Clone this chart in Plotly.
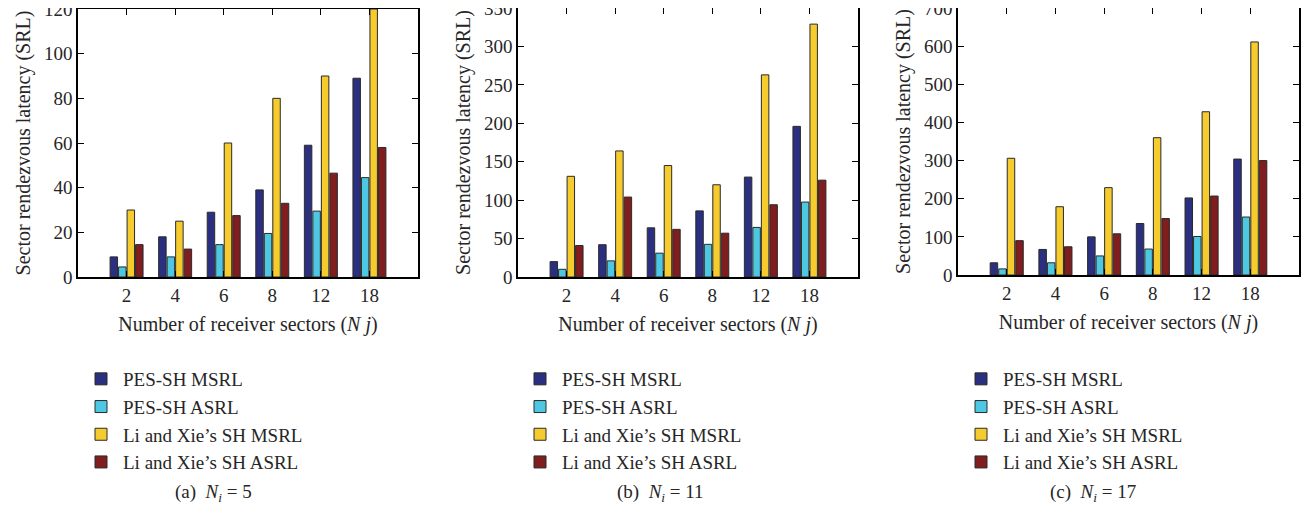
import plotly.graph_objects as go

categories = ["2", "4", "6", "8", "12", "18"]
series_names = ["PES-SH MSRL", "PES-SH ASRL", "Li and Xie’s SH MSRL", "Li and Xie’s SH ASRL"]
colors = ["#2B2F7F", "#4EC7E3", "#F6CB2E", "#7F1D1F"]

# (a) N_i = 5
a_pes_msrl = [9, 18, 29, 39, 59, 89]
a_pes_asrl = [4.5, 9, 14.5, 19.5, 29.5, 44.5]
a_li_msrl = [30, 25, 60, 80, 90, 120]
a_li_asrl = [14.5, 12.5, 27.5, 33, 46.5, 58]
# (b) N_i = 11
b_pes_msrl = [20, 42, 64, 86, 130, 196]
b_pes_asrl = [10, 21, 31, 42.5, 64.5, 97.5]
b_li_msrl = [131, 164, 145, 120, 263, 329]
b_li_asrl = [41, 104, 62, 57, 94, 126]
# (c) N_i = 17
c_pes_msrl = [32, 67, 100, 135, 202, 304]
c_pes_asrl = [16, 32, 50, 68, 101, 152]
c_li_msrl = [306, 179, 229, 360, 428, 611]
c_li_asrl = [90, 74, 108, 148, 207, 300]

panels = [
    ([a_pes_msrl, a_pes_asrl, a_li_msrl, a_li_asrl], [0, 120], 20, "(a)", "5"),
    ([b_pes_msrl, b_pes_asrl, b_li_msrl, b_li_asrl], [0, 350], 50, "(b)", "11"),
    ([c_pes_msrl, c_pes_asrl, c_li_msrl, c_li_asrl], [0, 700], 100, "(c)", "17"),
]

PAGE_W, PAGE_H, BODY = 1315, 513, 8
W, H = PAGE_W - 2 * BODY, PAGE_H - 2 * BODY


def px(x):
    return (x - BODY) / W


def py(y):
    return 1 - (y - BODY) / H


# page-pixel boxes: left, right, top, bottom
boxes = [(78, 418, 9, 277), (518, 858, 8, 277), (958, 1299, 7, 275)]
legend_x = [79, 518, 959]
caption_x = [213, 660, 1093]

FONT = "Liberation Serif"
TXT = "#262626"
fig = go.Figure()
layout = dict(
    width=W, height=H,
    margin=dict(l=0, r=0, t=0, b=0, autoexpand=False),
    paper_bgcolor="white", plot_bgcolor="white",
    barmode="group", bargap=0.3, bargroupgap=0.12,
    font=dict(family=FONT, size=19, color=TXT),
    annotations=[],
)

for i, (vals, yr, dt, lab, ni) in enumerate(panels):
    sfx = "" if i == 0 else str(i + 1)
    xa, ya = "x" + sfx, "y" + sfx
    leg = "legend" + sfx
    for s, (name, col, v) in enumerate(zip(series_names, colors, vals)):
        fig.add_trace(go.Bar(
            x=categories, y=v, name=name, xaxis=xa, yaxis=ya, legend=leg,
            marker=dict(color=col, line=dict(color="#2a2a2a", width=1)),
            showlegend=True,
        ))
    l, r, t, b = boxes[i]
    axis_common = dict(showline=True, linecolor="black", linewidth=1.5, mirror="ticks",
                       ticks="inside", ticklen=6, tickcolor="black", showgrid=False,
                       zeroline=False, ticklabeloverflow="allow", automargin=False,
                       tickfont=dict(family=FONT, size=19, color=TXT))
    layout["xaxis" + sfx] = dict(
        domain=[px(l), px(r)], anchor=ya, type="category", range=[-1, 6],
        title=dict(text="Number of receiver sectors (<i>N j</i>)", standoff=12,
                   font=dict(family=FONT, size=20, color=TXT)),
        **axis_common)
    layout["yaxis" + sfx] = dict(
        domain=[py(b), min(1, py(t))], anchor=xa, range=yr, dtick=dt,
        title=dict(text="Sector rendezvous latency (SRL)", standoff=8,
                   font=dict(family=FONT, size=20, color=TXT)),
        **axis_common)
    layout[leg] = dict(
        x=px(legend_x[i]), y=py(360), xanchor="left", yanchor="top",
        xref="paper", yref="paper", bgcolor="rgba(0,0,0,0)",
        font=dict(family=FONT, size=19, color=TXT),
        itemwidth=34, tracegroupgap=0, traceorder="normal",
    )
    layout["annotations"].append(dict(
        x=px(caption_x[i]), y=py(493), xref="paper", yref="paper",
        text=f"{lab}  <i>N</i><sub><i>i</i></sub> = {ni}", showarrow=False,
        font=dict(family=FONT, size=19, color=TXT), xanchor="center", yanchor="middle",
    ))

fig.update_layout(**layout)
fig.write_html("out.html")
